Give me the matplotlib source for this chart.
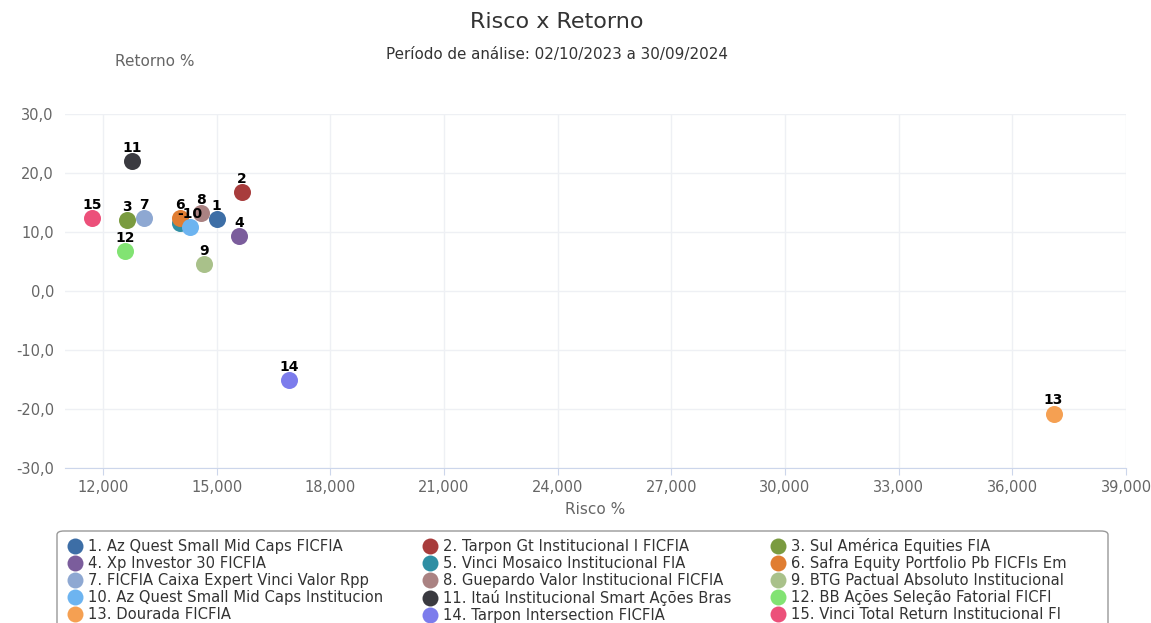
import matplotlib
matplotlib.use("Agg")
import matplotlib.pyplot as plt
from matplotlib.ticker import FuncFormatter, MultipleLocator
from matplotlib.lines import Line2D
from matplotlib.patches import FancyBboxPatch

# dados
nomes = [
    "1. Az Quest Small Mid Caps FICFIA",
    "2. Tarpon Gt Institucional I FICFIA",
    "3. Sul América Equities FIA",
    "4. Xp Investor 30 FICFIA",
    "5. Vinci Mosaico Institucional FIA",
    "6. Safra Equity Portfolio Pb FICFIs Em",
    "7. FICFIA Caixa Expert Vinci Valor Rpp",
    "8. Guepardo Valor Institucional FICFIA",
    "9. BTG Pactual Absoluto Institucional",
    "10. Az Quest Small Mid Caps Institucion",
    "11. Itaú Institucional Smart Ações Bras",
    "12. BB Ações Seleção Fatorial FICFI",
    "13. Dourada FICFIA",
    "14. Tarpon Intersection FICFIA",
    "15. Vinci Total Return Institucional FI",
]
rotulos = [str(i) for i in range(1, 16)]
risco = [15000, 15670, 12630, 15590, 14030, 14030, 13080, 14590,
         14660, 14300, 12770, 12580, 37090, 16910, 11710]
retorno = [12.2, 16.8, 12.0, 9.3, 11.5, 12.4, 12.4, 13.2,
           4.6, 10.8, 22.0, 6.8, -20.8, -15.1, 12.4]
cores = ["#3d6ea6", "#a83c3c", "#7a9b40", "#7b5d9c", "#2f8fa4",
         "#e07d32", "#8ea8d2", "#aa8282", "#a9c18a", "#6db4f0",
         "#3a3a40", "#82e373", "#f5a052", "#7c7cec", "#ec507a"]

fig = plt.figure(figsize=(11.51, 6.23), dpi=100)
ax = fig.add_axes([65/1151, 1 - 468/623, (1126-65)/1151, (468-114)/623])

# ordem de desenho: 5 antes de 6/10 para ficar escondido
ordem = [4, 0, 1, 2, 3, 5, 6, 7, 8, 9, 10, 11, 12, 13, 14]
for i in ordem:
    ax.scatter(risco[i], retorno[i], s=150, color=cores[i], zorder=3, linewidths=0)
for i in range(15):
    if i == 4:
        continue
    txt = rotulos[i]
    if i == 9:
        txt = "-" + txt  # rotulo 5 escondido atras do 10
    ax.annotate(txt, (risco[i], retorno[i]), xytext=(0, 4.5),
                textcoords="offset points", ha="center", va="bottom",
                fontsize=10, fontweight="bold", color="black", zorder=4)

ax.set_xlim(11000, 39000)
ax.set_ylim(-30, 30)
ax.xaxis.set_major_locator(MultipleLocator(3000))
ax.yaxis.set_major_locator(MultipleLocator(10))
ax.xaxis.set_major_formatter(FuncFormatter(lambda v, p: f"{int(v):,}"))
ax.yaxis.set_major_formatter(FuncFormatter(lambda v, p: f"{v:.1f}".replace(".", ",")))
ax.grid(True, color="#eef0f4", linewidth=1)
ax.set_axisbelow(True)
for s in ["top", "right", "left"]:
    ax.spines[s].set_visible(False)
ax.spines["bottom"].set_color("#ccd6eb")
ax.tick_params(axis="y", length=0, labelsize=10.5, labelcolor="#666666", pad=8)
ax.tick_params(axis="x", length=5, color="#ccd6eb", labelsize=10.5, labelcolor="#666666")

ax.set_xlabel("Risco %", fontsize=11, color="#666666", labelpad=5)
fig.text(155/1151, 1 - 62/623, "Retorno %", fontsize=11, color="#666666",
         ha="center", va="center")
fig.text(557/1151, 1 - 22/623, "Risco x Retorno", fontsize=16, color="#333333",
         ha="center", va="center")
fig.text(557/1151, 1 - 55/623, "Período de análise: 02/10/2023 a 30/09/2024",
         fontsize=10.9, color="#333333", ha="center", va="center")

# moldura da legenda (cortada embaixo)
fig.patches.append(FancyBboxPatch((57/1151, -20/623), (1108-57)/1151, (623-531+20)/623,
                                  boxstyle="round,pad=0,rounding_size=0.006",
                                  transform=fig.transFigure, facecolor="white",
                                  edgecolor="#999999", linewidth=1, figure=fig))

# legenda em 3 colunas, preenchida por linha
handles = [Line2D([], [], marker="o", linestyle="", markersize=11.5,
                  markerfacecolor=c, markeredgewidth=0) for c in cores]
idx = [0, 3, 6, 9, 12, 1, 4, 7, 10, 13, 2, 5, 8, 11, 14]
leg = fig.legend([handles[i] for i in idx], [nomes[i] for i in idx],
                 loc="upper left", bbox_to_anchor=(52/1151, 1 - 524/623),
                 ncol=3, fontsize=10.6, frameon=False, handletextpad=0.3,
                 handlelength=1.2, labelspacing=0.14, columnspacing=2.55,
                 borderpad=0.45)
for t in leg.get_texts():
    t.set_color("#333333")

fig.savefig("out.png", dpi=100)
